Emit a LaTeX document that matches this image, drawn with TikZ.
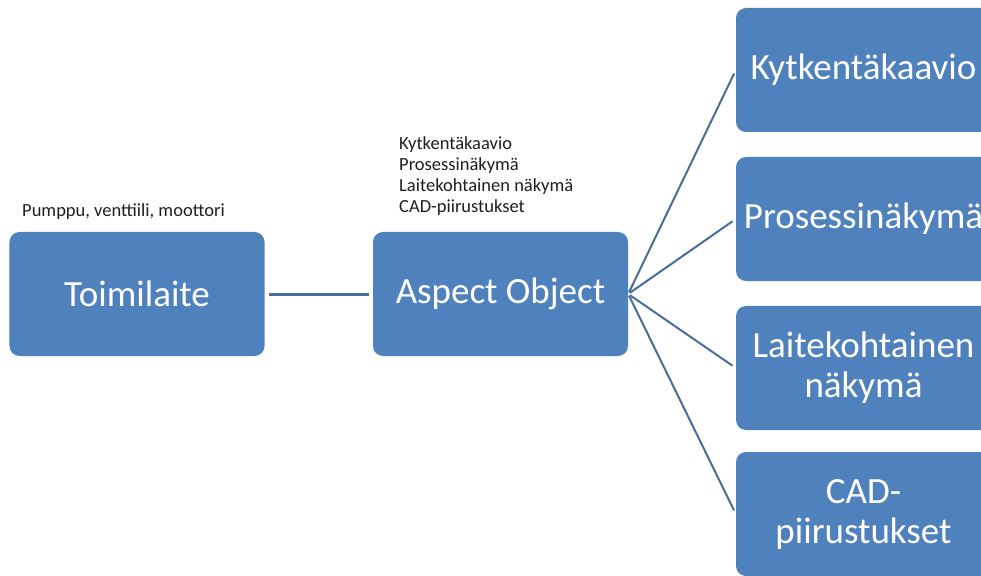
\documentclass[tikz,border=0pt]{standalone}
\usepackage{fontspec}
\setmainfont{Carlito}
\definecolor{boxblue}{HTML}{4F81BD}
\definecolor{linkblue}{HTML}{4A6C98}
\definecolor{notegray}{HTML}{1E1E1E}
\begin{document}
\begin{tikzpicture}[x=1bp,y=-1bp,
  block/.style={rectangle, rounded corners=10bp, fill=boxblue, draw=none,
    minimum width=255bp, minimum height=124bp, inner sep=2bp,
    text=white, align=center,
    font=\fontsize{37bp}{40bp}\selectfont},
  note/.style={inner sep=0pt, text=notegray, align=left,
    font=\fontsize{18.5bp}{21bp}\selectfont},
  link/.style={draw=linkblue, line width=2bp}]
  \useasboundingbox (0,0) rectangle (981,576);

  % main chain
  \node[block] (toimi) at (137,294) {Toimilaite};
  \node[block] (aspect) at (500.5,294) {Aspect Object};

  % aspects on the right
  \node[block] (kyt) at (863.5,70) {Kytkentäkaavio};
  \node[block] (pros) at (863.5,219) {Prosessinäkymä};
  \node[block] (lait) at (863.5,368) {Laitekohtainen\\näkymä};
  \node[block] (cad) at (863.5,514) {CAD-\\piirustukset};

  % notes (base anchor of a multi-line node sits on its last line)
  \node[note, anchor=base west] (examples) at (22,217) {Pumppu, venttiili, moottori};
  \node[note, anchor=base west] (aspects) at (399,213)
    {Kytkentäkaavio\\Prosessinäkymä\\Laitekohtainen näkymä\\CAD-piirustukset};

  % connectors
  \draw[link, line width=3bp, shorten <=4bp, shorten >=4bp] (toimi.east) -- (aspect.west);
  \foreach \t in {kyt,pros,lait,cad}
    \draw[link, shorten <=2bp, shorten >=4bp] (aspect.east) -- (\t.west);
\end{tikzpicture}
\end{document}
